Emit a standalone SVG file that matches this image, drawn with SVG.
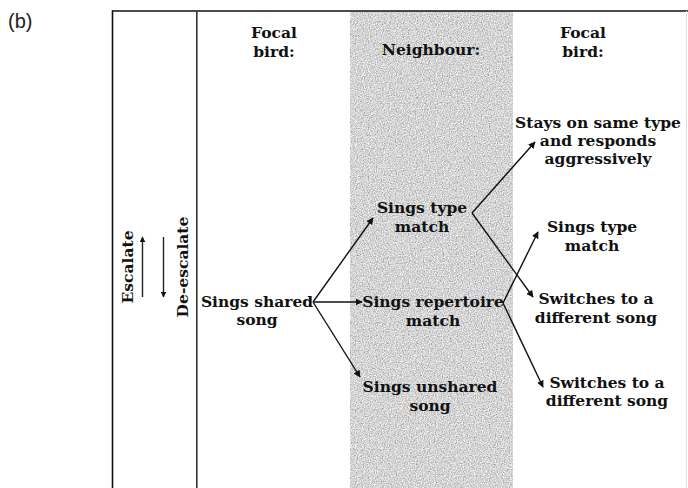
<svg xmlns="http://www.w3.org/2000/svg" width="688" height="488" viewBox="0 0 688 488">
  <style>
    .t { font-family: "DejaVu Serif", "Liberation Serif", serif; font-weight: bold; font-size: 15.5px; fill: #111; text-anchor: middle; }
    .frame { stroke: #111; stroke-width: 1.6; fill: none; }
    .edge { stroke: #111; stroke-width: 1.4; fill: none; marker-end: url(#head); }
    .tag { font-family: "Liberation Sans", Arial, sans-serif; font-size: 20px; fill: #222; }
  </style>
  <defs>
    <marker id="head" viewBox="0 0 10 10" refX="9" refY="5" markerWidth="7" markerHeight="7" markerUnits="userSpaceOnUse" orient="auto">
      <path d="M0,0 L10,5 L0,10 z" fill="#111"/>
    </marker>
    <marker id="headSmall" viewBox="0 0 10 10" refX="9" refY="5" markerWidth="6" markerHeight="6" markerUnits="userSpaceOnUse" orient="auto">
      <path d="M0,0 L10,5 L0,10 z" fill="#111"/>
    </marker>
    <!-- grainy stipple for the neighbour column -->
    <filter id="grain" x="0" y="0" width="1" height="1" filterUnits="objectBoundingBox">
      <feTurbulence type="fractalNoise" baseFrequency="0.85" numOctaves="2" seed="3" result="noise"/>
      <feColorMatrix in="noise" type="matrix" values="1 0 0 0 0.16  1 0 0 0 0.16  1 0 0 0 0.16  0 0 0 0 1" result="gray"/>
      <feComposite in="gray" in2="SourceAlpha" operator="in"/>
    </filter>
  </defs>

  <rect width="688" height="488" fill="#fff"/>

  <text class="tag" x="8" y="28">(b)</text>

  <!-- neighbour column background -->
  <rect id="neighbour-column" x="350" y="11" width="163" height="477" fill="#aaa" filter="url(#grain)"/>

  <!-- frame and column divider -->
  <g id="frame">
    <line class="frame" x1="112.5" y1="11" x2="688" y2="11"/>
    <line class="frame" x1="112.5" y1="10.2" x2="112.5" y2="488"/>
    <line x1="196.8" y1="11" x2="196.8" y2="488" stroke="#333" stroke-width="1.6"/>
    <line x1="686.5" y1="11" x2="686.5" y2="488" stroke="#e2e2e2" stroke-width="1"/>
  </g>

  <!-- column headings -->
  <g id="head-focal-left">
    <text class="t" x="274" y="38">Focal</text>
    <text class="t" x="274" y="57">bird:</text>
  </g>
  <g id="head-neighbour">
    <text class="t" x="431" y="55">Neighbour:</text>
  </g>
  <g id="head-focal-right">
    <text class="t" x="583" y="38">Focal</text>
    <text class="t" x="583" y="57">bird:</text>
  </g>

  <!-- escalation axis -->
  <g id="axis">
    <text class="t" transform="translate(133,267) rotate(-90)" x="0" y="0">Escalate</text>
    <text class="t" transform="translate(188,267) rotate(-90)" x="0" y="0">De-escalate</text>
    <line x1="142.5" y1="297" x2="142.5" y2="237" stroke="#222" stroke-width="1.4" marker-end="url(#headSmall)"/>
    <line x1="163.5" y1="237" x2="163.5" y2="297" stroke="#222" stroke-width="1.4" marker-end="url(#headSmall)"/>
  </g>

  <!-- nodes -->
  <g id="sings-shared-song">
    <text class="t" x="257" y="307">Sings shared</text>
    <text class="t" x="257" y="325">song</text>
  </g>
  <g id="sings-type-match">
    <text class="t" x="422" y="213">Sings type</text>
    <text class="t" x="422" y="232">match</text>
  </g>
  <g id="sings-repertoire-match">
    <text class="t" x="433" y="307">Sings repertoire</text>
    <text class="t" x="433" y="326">match</text>
  </g>
  <g id="sings-unshared-song">
    <text class="t" x="430" y="392">Sings unshared</text>
    <text class="t" x="430" y="411">song</text>
  </g>
  <g id="stays-aggressive">
    <text class="t" x="598" y="128">Stays on same type</text>
    <text class="t" x="598" y="146">and responds</text>
    <text class="t" x="598" y="164">aggressively</text>
  </g>
  <g id="focal-type-match">
    <text class="t" x="592" y="232">Sings type</text>
    <text class="t" x="592" y="251">match</text>
  </g>
  <g id="switches-1">
    <text class="t" x="596" y="304">Switches to a</text>
    <text class="t" x="596" y="323">different song</text>
  </g>
  <g id="switches-2">
    <text class="t" x="607" y="388">Switches to a</text>
    <text class="t" x="607" y="406">different song</text>
  </g>

  <!-- connectors -->
  <g id="connectors">
    <line class="edge" x1="313" y1="302" x2="373" y2="218"/>
    <line class="edge" x1="313" y1="302" x2="362" y2="302"/>
    <line class="edge" x1="313" y1="302" x2="360" y2="377"/>
    <line class="edge" x1="472" y1="213" x2="535" y2="142"/>
    <line class="edge" x1="472" y1="213" x2="533" y2="297"/>
    <line class="edge" x1="503" y1="303" x2="538" y2="232"/>
    <line class="edge" x1="503" y1="303" x2="543" y2="387"/>
  </g>
</svg>
